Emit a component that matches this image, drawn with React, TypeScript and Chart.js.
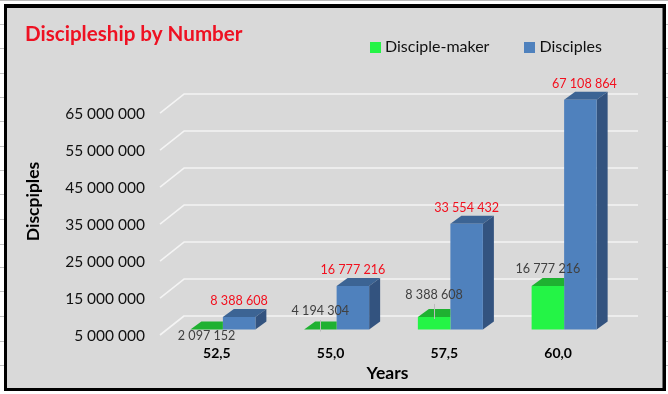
import React, { useEffect, useRef } from "react";
import { Chart, registerables } from "chart.js";

Chart.register(...registerables);

const categories = ["52,5", "55,0", "57,5", "60,0"];
const makerValues = [2097152, 4194304, 8388608, 16777216];
const discipleValues = [8388608, 16777216, 33554432, 67108864];
const yTicks = [5000000, 15000000, 25000000, 35000000, 45000000, 55000000, 65000000];
const makerLabelNudge = [6.5, -18.5, -22, -17];
const sheetMarks = [24, 48, 73, 97, 121, 146, 170, 194, 219, 244, 267, 291, 316, 341, 365];

const FONT = "Lato, Carlito, Calibri, sans-serif";
const BG = "#d9d9d9";
const GREEN = "#24f446";
const GREEN_TOP = "#1fb131";
const BLUE = "#4f81bd";
const BLUE_TOP = "#3c6494";
const BLUE_SIDE = "#33537f";
const PLANE = { dx: 6, dy: -5.5 };
const BAR_DEPTH = { dx: 11, dy: 8 };
const WALL = { dx: 24, dy: -19 };

const fmt = (v: number) => String(v).replace(/\B(?=(\d{3})+(?!\d))/g, " ");

function swatch(color: string) {
  const c = document.createElement("canvas");
  c.width = 11;
  c.height = 11;
  const g = c.getContext("2d")!;
  g.fillStyle = color;
  g.fillRect(0, 0, 11, 11);
  return c;
}

function poly(ctx: CanvasRenderingContext2D, color: string, pts: number[][]) {
  ctx.fillStyle = color;
  ctx.beginPath();
  pts.forEach((p, i) => (i ? ctx.lineTo(p[0], p[1]) : ctx.moveTo(p[0], p[1])));
  ctx.closePath();
  ctx.fill();
}

const pseudo3d = {
  id: "pseudo3d",
  beforeDraw(chart: any) {
    const { ctx, width, height } = chart;
    ctx.save();
    ctx.fillStyle = "#fff";
    ctx.fillRect(0, 0, width, height);
    ctx.fillStyle = "#b9b9b9";
    ctx.fillRect(0, 0, width, 1);
    ctx.fillStyle = "#c4c4c4";
    sheetMarks.forEach((y) => {
      ctx.fillRect(0, y, 5, 1);
      ctx.fillRect(664, y, 4, 1);
    });
    ctx.fillStyle = "#000";
    ctx.fillRect(4, 4, 662, 387);
    ctx.fillStyle = BG;
    ctx.fillRect(7, 8, 655.5, 380);
    ctx.restore();
  },
  beforeLayout(chart: any) {
    // the legend floats beside the title, so it takes no room in the layout
    const lg = chart.legend;
    if (lg && !lg.__floating) {
      lg.__floating = true;
      const fit = lg.fit;
      lg.fit = function () {
        fit.call(this);
        this.__h = this.height;
        this.height = 0;
      };
    }
  },
  afterLayout(chart: any) {
    const lg = chart.legend;
    if (lg) {
      const w = lg.right - lg.left;
      lg.left = 335;
      lg.right = 335 + w;
      lg.top = 0;
      lg.bottom = lg.__h;
    }
  },
  beforeDatasetsDraw(chart: any) {
    const { ctx, chartArea, scales } = chart;
    ctx.save();
    ctx.strokeStyle = "#f4f4f4";
    ctx.lineWidth = 1.6;
    ctx.lineJoin = "round";
    yTicks.forEach((t) => {
      const y = scales.y.getPixelForValue(t);
      ctx.beginPath();
      ctx.moveTo(chartArea.left, y);
      ctx.lineTo(chartArea.left + WALL.dx, y + WALL.dy);
      ctx.lineTo(chartArea.right + WALL.dx - 1, y + WALL.dy);
      ctx.stroke();
    });
    ctx.restore();

    ctx.save();
    ctx.font = `bold 17.5px ${FONT}`;
    ctx.fillStyle = "#000";
    ctx.textAlign = "center";
    ctx.textBaseline = "middle";
    ctx.translate(33, 201.5);
    ctx.rotate(-Math.PI / 2);
    ctx.fillText("Discpiples", 0, 0);
    ctx.restore();
  },
  beforeDatasetDraw(chart: any, args: any) {
    const { ctx, scales } = chart;
    ctx.save();
    ctx.translate(PLANE.dx, PLANE.dy);
    const { dx, dy } = BAR_DEPTH;
    const b = scales.y.bottom;
    args.meta.data.forEach((bar: any) => {
      const l = bar.x - bar.width / 2;
      const r = bar.x + bar.width / 2;
      const t = Math.min(bar.y, b);
      if (args.index === 0) {
        poly(ctx, GREEN_TOP, [[l, t], [r, t], [r, t - dy], [l + dx, t - dy]]);
      } else {
        poly(ctx, BLUE_TOP, [[l, t], [r, t], [r + dx, t - dy], [l + dx, t - dy]]);
        poly(ctx, BLUE_SIDE, [[r, t], [r + dx, t - dy], [r + dx, b - dy], [r, b]]);
      }
    });
  },
  afterDatasetDraw(chart: any) {
    chart.ctx.restore();
  },
  afterDatasetsDraw(chart: any) {
    const { ctx, scales } = chart;
    const b = scales.y.bottom;
    const makers = chart.getDatasetMeta(0).data;
    const disciples = chart.getDatasetMeta(1).data;
    ctx.save();
    ctx.textAlign = "center";
    ctx.textBaseline = "middle";
    ctx.font = `12.6px ${FONT}`;
    disciples.forEach((bar: any, i: number) => {
      const top = Math.min(bar.y, b) + PLANE.dy;
      ctx.fillStyle = "#f2101e";
      ctx.fillText(fmt(discipleValues[i]), bar.x + PLANE.dx + (i === 3 ? 4 : 0), top - 16);
    });
    makers.forEach((bar: any, i: number) => {
      const top = Math.min(bar.y, b) + PLANE.dy;
      const x = bar.x + PLANE.dx;
      const ly = top + makerLabelNudge[i];
      if (i === 1 || i === 2) {
        ctx.strokeStyle = "#bdbdbd";
        ctx.lineWidth = 1;
        ctx.beginPath();
        ctx.moveTo(Math.round(x) + 0.5, ly + 9);
        ctx.lineTo(Math.round(x) + 0.5, top + 2);
        ctx.stroke();
      }
      ctx.fillStyle = "#404040";
      ctx.fillText(fmt(makerValues[i]), x, ly);
    });
    ctx.restore();
  },
};

export default function App() {
  const ref = useRef<HTMLCanvasElement>(null);
  useEffect(() => {
    document.body.style.margin = "0";
    const swatches = [swatch(GREEN), swatch(BLUE)];
    const chart = new Chart(ref.current!, {
      type: "bar",
      data: {
        labels: categories,
        datasets: [
          { label: "Disciple-maker", data: makerValues, backgroundColor: GREEN, clip: 0 } as any,
          { label: "Disciples", data: discipleValues, backgroundColor: BLUE, clip: 0 } as any,
        ],
      },
      plugins: [pseudo3d],
      options: {
        animation: false,
        responsive: false,
        devicePixelRatio: 1,
        layout: { padding: { left: 25, right: 53, top: 0, bottom: 0 } },
        datasets: { bar: { categoryPercentage: 0.5717, barPercentage: 1 } },
        plugins: {
          tooltip: { enabled: false },
          title: {
            display: true,
            text: "Discipleship by Number",
            align: "start",
            color: "#ee1122",
            font: { family: FONT, size: 20.6, weight: "bold", lineHeight: 1.2 },
            padding: { top: 21.5, bottom: 48.3 },
          },
          legend: {
            display: true,
            position: "top",
            align: "start",
            labels: {
              usePointStyle: true,
              pointStyleWidth: 3,
              padding: 39,
              color: "#111",
              font: { family: FONT, size: 16 },
              generateLabels(c: any) {
                return Chart.defaults.plugins.legend.labels.generateLabels(c).map((it: any, i: number) => ({
                  ...it,
                  pointStyle: swatches[i],
                }));
              },
            },
          },
        },
        scales: {
          x: {
            grid: { display: false },
            border: { display: false },
            afterFit: (s: any) => {
              s.height = 59;
            },
            ticks: {
              padding: 2,
              color: "#000",
              font: { family: FONT, size: 14, weight: "bold" },
              maxRotation: 0,
            },
            title: {
              display: true,
              text: "Years",
              color: "#000",
              font: { family: FONT, size: 17.5, weight: "bold" },
              padding: { top: 0, bottom: 10 },
            },
          },
          y: {
            min: 5000000,
            max: 70000000,
            grid: { display: false },
            border: { display: false },
            afterBuildTicks: (s: any) => {
              s.ticks = yTicks.map((value) => ({ value }));
            },
            afterFit: (s: any) => {
              s.width = 135;
            },
            ticks: {
              padding: 7,
              labelOffset: 0.5,
              color: "#111",
              font: { family: FONT, size: 15.5 },
              callback: (v: any) => fmt(Number(v)),
            },
          },
        },
      } as any,
    });
    return () => chart.destroy();
  }, []);
  return <canvas ref={ref} width={668} height={394} style={{ display: "block" }} />;
}
